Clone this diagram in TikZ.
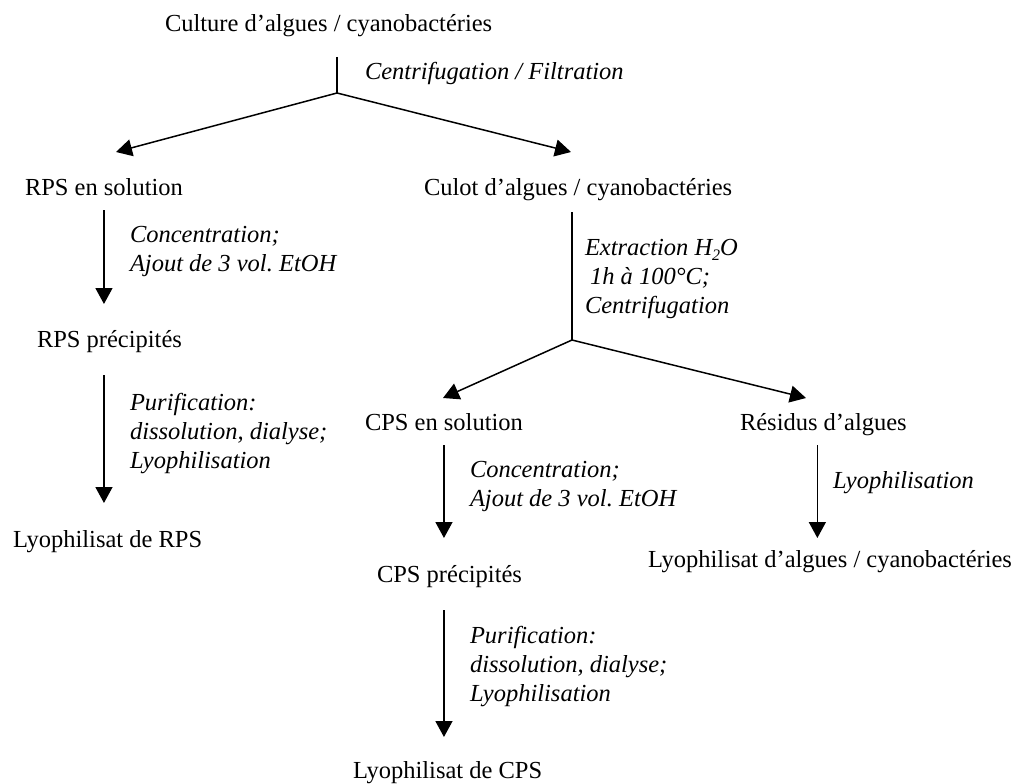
\documentclass[tikz,border=0pt]{standalone}
\usepackage{fontspec}
\setmainfont{Liberation Serif}
\usetikzlibrary{arrows.meta,calc}
\frenchspacing
\newcommand{\mylines}[1]{\begin{tabular}[t]{@{}l@{}}#1\end{tabular}}
\newcommand{\subtwo}{\raisebox{-0.22em}{\fontsize{16}{16}\selectfont 2}}
\begin{document}
\begin{tikzpicture}[x=1pt,y=-1pt,
  every node/.style={inner sep=0pt, outer sep=0pt, anchor=base west,
    font=\fontsize{24.5}{29}\selectfont},
  box/.style={text height=17pt, text depth=5.5pt},
  lab/.style={font=\fontsize{24.5}{29}\selectfont\itshape},
  ln/.style={line width=1.5pt},
  arr/.style={line width=1.5pt, -{Triangle[length=16pt,width=17pt]}}]
\useasboundingbox (0,0) rectangle (1017,784);
% nodes
\node[box] (t0) at (165,32) {Culture d’algues / cyanobactéries};
\node[box] (l1) at (25,195) {RPS en solution};
\node[box] (r1) at (424,195) {Culot d’algues / cyanobactéries};
\node[box] (l2) at (37,347) {RPS précipités};
\node[box] (l3) at (13,547) {Lyophilisat de RPS};
\node[box] (c1) at (365,430) {CPS en solution};
\node[box] (d1) at (740,430) {Résidus d’algues};
\node[box] (c2) at (377,582) {CPS précipités};
\node[box] (d2) at (648,567) {Lyophilisat d’algues / cyanobactéries};
\node[box] (c3) at (353,778) {Lyophilisat de CPS};
% labels
\node[lab] (lab0) at (365,80) {Centrifugation / Filtration};
\node[lab] (lab1) at (130,242) {\mylines{Concentration;\\Ajout de 3 vol. EtOH}};
\node[lab] (lab2) at (130,410) {\mylines{Purification:\\dissolution, dialyse;\\Lyophilisation}};
\node[lab] (lab3) at (585,255) {\mylines{Extraction H\subtwo O\\\hspace{5pt}1h à 100°C;\\Centrifugation}};
\node[lab] (lab4) at (470,477) {\mylines{Concentration;\\Ajout de 3 vol. EtOH}};
\node[lab] (lab5) at (833,488) {Lyophilisation};
\node[lab] (lab6) at (470,643) {\mylines{Purification:\\dissolution, dialyse;\\Lyophilisation}};
% junctions and tips
\coordinate (j1) at (337,93);
\coordinate (a1) at (116,152);
\coordinate (a2) at (571,152);
\coordinate (j2) at (572,340);
\coordinate (b1) at (443,398);
\coordinate (b2) at (806,398);
% connectors
\draw[ln, shorten <=19.5pt] (j1 |- t0.south) -- (j1);
\draw[arr] (j1) -- (a1);
\draw[arr] (j1) -- (a2);
\draw[arr, shorten <=9.5pt, shorten >=26pt] (l1.south) -- (l1.south |- l2.north);
\draw[arr, shorten <=22.5pt, shorten >=27pt] (l1.south |- l2.south) -- (l1.south |- l3.north);
\draw[ln, shorten <=11.5pt] (j2 |- r1.south) -- (j2);
\draw[arr] (j2) -- (b1);
\draw[arr] (j2) -- (b2);
\draw[arr, shorten <=9.5pt, shorten >=27pt] (c1.south) -- (c1.south |- c2.north);
\draw[arr, shorten <=22.5pt, shorten >=24pt] (c1.south |- c2.south) -- (c1.south |- c3.north);
\draw[arr, shorten <=9.5pt, shorten >=12pt] ([xshift=-6pt]d1.south) -- ([xshift=-6pt]d1.south |- d2.north);
\end{tikzpicture}
\end{document}
